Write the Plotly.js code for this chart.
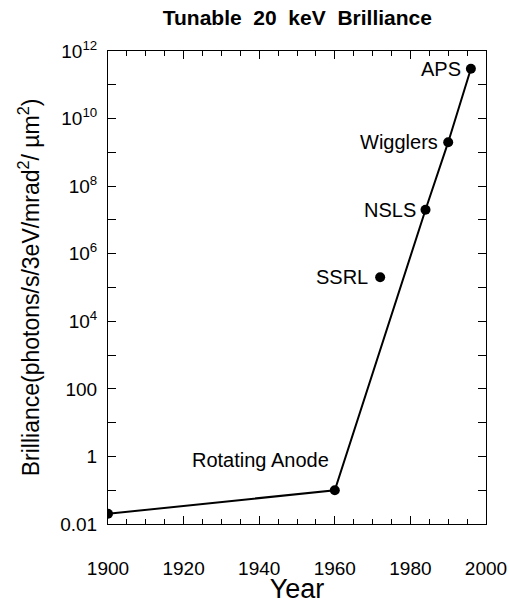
<!DOCTYPE html>
<html>
<head>
<meta charset="utf-8">
<script src="https://cdn.plot.ly/plotly-3.0.1.min.js"></script>
<style>html,body{margin:0;padding:0;background:#fff;}</style>
</head>
<body>
<div id="chart" style="width:510px;height:604px;"></div>
<script>
// Data
const years = [1900, 1960, 1984, 1990, 1996];
const brilliance = [0.02, 0.1, 2e7, 2e9, 3e11];
const pointLabels = ['', 'Rotating Anode', 'NSLS', 'Wigglers', 'APS'];
const ssrlYear = [1972];
const ssrlBrilliance = [2e5];
const ssrlLabel = ['SSRL'];
const xTickVals = [1900, 1920, 1940, 1960, 1980, 2000];
const yLabelDecades = [-2, 0, 2, 4, 6, 8, 10, 12];
const yTickText = ['0.01', '1', '100', '10<sup>4</sup>', '10<sup>6</sup>', '10<sup>8</sup>', '10<sup>10</sup>', '10<sup>12</sup>'];
const yMinorDecades = [-1, 1, 3, 5, 7, 9, 11];

const FONT = 'Liberation Sans, Arial, Helvetica, sans-serif';

const traces = [
  {
    x: years, y: brilliance, type: 'scatter', mode: 'lines+markers',
    line: {color: '#000', width: 2},
    marker: {color: '#000', size: 10},
    hoverinfo: 'skip', showlegend: false
  },
  {
    x: ssrlYear, y: ssrlBrilliance, type: 'scatter', mode: 'markers',
    marker: {color: '#000', size: 10},
    hoverinfo: 'skip', showlegend: false
  }
];

const annotations = [];
for (let i = 0; i < years.length; i++) {
  if (!pointLabels[i]) continue;
  const isAnode = pointLabels[i] === 'Rotating Anode';
  annotations.push({
    x: years[i], y: Math.log10(brilliance[i]), xref: 'x', yref: 'y',
    text: pointLabels[i], showarrow: false,
    xanchor: 'right', yanchor: 'middle',
    xshift: isAnode ? -4 : -8, yshift: isAnode ? 30 : 0,
    font: {family: FONT, size: 20, color: '#000'}
  });
}
for (let i = 0; i < ssrlYear.length; i++) {
  annotations.push({
    x: ssrlYear[i], y: Math.log10(ssrlBrilliance[i]), xref: 'x', yref: 'y',
    text: ssrlLabel[i], showarrow: false,
    xanchor: 'right', yanchor: 'middle', xshift: -10, yshift: 0,
    font: {family: FONT, size: 20, color: '#000'}
  });
}

const layout = {
  width: 510, height: 604,
  margin: {l: 108, r: 24, t: 51, b: 80},
  paper_bgcolor: '#fff', plot_bgcolor: '#fff',
  font: {family: FONT, color: '#000'},
  title: {
    text: '<b>Tunable  20  keV  Brilliance</b>',
    font: {family: FONT, size: 21, color: '#000'},
    xref: 'container', yref: 'container', x: 0.583, y: 0.97,
    xanchor: 'center', yanchor: 'middle'
  },
  xaxis: {
    range: [1900, 2000],
    tickvals: xTickVals,
    ticks: 'inside', ticklen: 8, tickwidth: 1, tickcolor: '#000',
    minor: {tick0: 1900, dtick: 5, ticks: 'inside', ticklen: 5, tickwidth: 1, tickcolor: '#000', showgrid: false},
    showline: true, linecolor: '#000', linewidth: 1, mirror: 'allticks',
    showgrid: false, zeroline: false,
    tickfont: {family: FONT, size: 19, color: '#000'},
    ticklabelstandoff: 27,
    title: {text: 'Year', font: {family: FONT, size: 27, color: '#000'}, standoff: 7}
  },
  yaxis: {
    type: 'log', range: [-2, 12],
    tickmode: 'array',
    tickvals: yLabelDecades.map(d => Math.pow(10, d)),
    ticktext: yTickText,
    ticks: 'inside', ticklen: 8, tickwidth: 1, tickcolor: '#000',
    minor: {tickmode: 'array', tickvals: yMinorDecades.map(d => Math.pow(10, d)), ticks: 'inside', ticklen: 8, tickwidth: 1, tickcolor: '#000', showgrid: false},
    showline: true, linecolor: '#000', linewidth: 1, mirror: 'allticks',
    showgrid: false, zeroline: false,
    tickfont: {family: FONT, size: 19, color: '#000'},
    ticklabelstandoff: 6,
    title: {text: 'Brilliance(photons/s/3eV/mrad<sup>2</sup>/ µm<sup>2</sup>)', font: {family: FONT, size: 23, color: '#000'}, standoff: 14}
  },
  annotations: annotations
};

Plotly.newPlot('chart', traces, layout, {displayModeBar: false, staticPlot: true});
</script>
</body>
</html>
